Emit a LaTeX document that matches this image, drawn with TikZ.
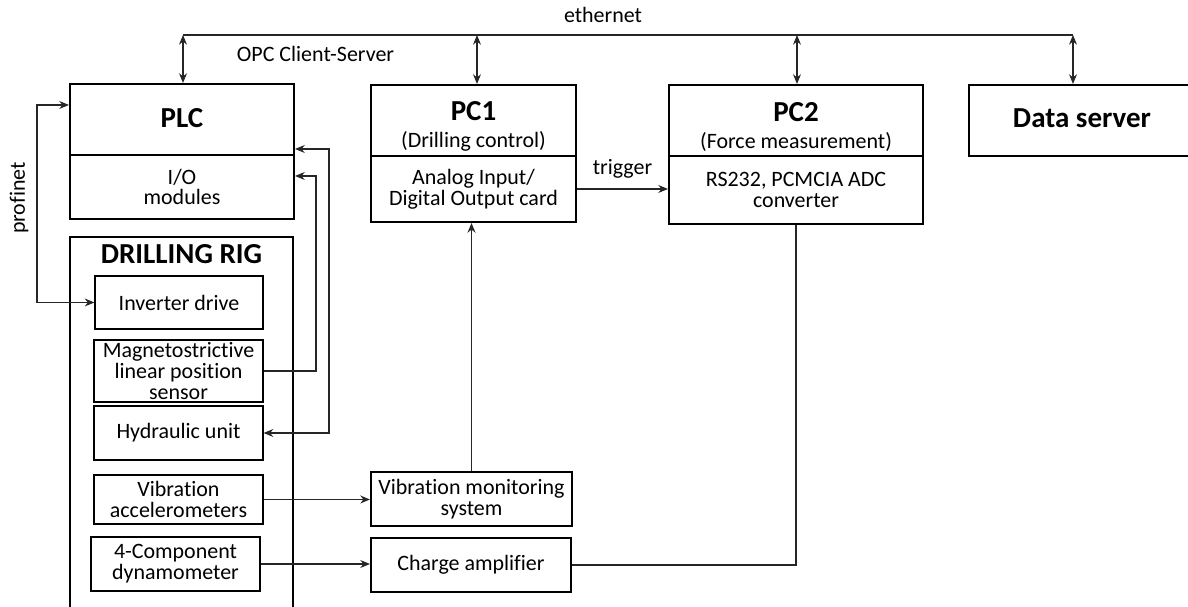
\documentclass[tikz,border=0pt]{standalone}
\usepackage{fontspec}
\setmainfont{Carlito}[Ligatures=NoCommon]
\usetikzlibrary{arrows.meta}

\newcommand{\bodysize}{\fontsize{12.5}{11.8}\selectfont}
\newcommand{\headsize}{\fontsize{16.5}{18}\selectfont\bfseries}

\tikzset{
  blk/.style={draw, line width=1.2pt, inner sep=0pt, align=center, font=\bodysize},
  part/.style={draw, line width=.7pt, inner sep=0pt, align=center, font=\bodysize},
  wire/.style={line width=.6pt, draw=black!85},
  txt/.style={inner sep=0pt, font=\bodysize},
}

\begin{document}
\begin{tikzpicture}[x=0.02cm, y=0.02cm, >={Stealth[length=5.5pt,width=4.5pt]}]
  \useasboundingbox (0,0) rectangle (1188,607);
  \clip (0,0) rectangle (1188,607);

  % top row
  \node[blk, minimum width=4.48cm, minimum height=1.42cm] (PLC) at (182,487.5) {};
  \node[blk, minimum width=4.48cm, minimum height=1.28cm] (IO) at (182,420) {I/O\\modules};
  \node[txt, anchor=base, font=\headsize] (PLCname) at (182,479) {PLC};

  \node[blk, minimum width=4.1cm, minimum height=1.42cm] (PC1) at (473.5,486.5) {};
  \node[blk, minimum width=4.1cm, minimum height=1.32cm] (AIO) at (473.5,418) {Analog Input/\\Digital Output card};
  \node[txt, anchor=base, font=\headsize] (PC1name) at (473.5,486) {PC1};
  \node[txt, anchor=base] (PC1role) at (473.5,459) {(Drilling control)};

  \node[blk, minimum width=5.08cm, minimum height=1.42cm] (PC2) at (796,486.5) {};
  \node[blk, minimum width=5.08cm, minimum height=1.36cm] (ADC) at (796,417) {RS232, PCMCIA ADC\\converter};
  \node[txt, anchor=base, font=\headsize] (PC2name) at (796,485.5) {PC2};
  \node[txt, anchor=base] (PC2role) at (796,458) {(Force measurement)};

  \node[blk, minimum width=4.52cm, minimum height=1.42cm] (DS) at (1082,486.5) {};
  \node[txt, anchor=base, font=\headsize] (DSname) at (1082,479) {Data server};

  % drilling rig
  \node[blk, minimum width=4.46cm, minimum height=7.7cm] (RIG) at (181.5,177.5) {};
  \node[txt, anchor=base, font=\headsize] (RIGname) at (181.5,343) {DRILLING RIG};
  \node[part, minimum width=3.36cm, minimum height=1.06cm] (INV) at (179,304.5) {Inverter drive};
  \node[part, minimum width=3.38cm, minimum height=1.24cm] (MAG) at (178.5,236) {Magnetostrictive\\linear position\\sensor};
  \node[part, minimum width=3.38cm, minimum height=1.08cm] (HYD) at (178.5,174) {Hydraulic unit};
  \node[part, minimum width=3.38cm, minimum height=.98cm] (VA) at (178.5,107.5) {Vibration\\accelerometers};
  \node[part, minimum width=3.38cm, minimum height=1.08cm] (DYN) at (175.5,43) {4-Component\\dynamometer};

  % signal conditioning
  \node[blk, minimum width=4.02cm, minimum height=1.08cm] (VMS) at (471.5,108) {Vibration monitoring\\system};
  \node[blk, minimum width=4cm, minimum height=1.08cm] (CA) at (471,42) {Charge amplifier};

  % ethernet
  \coordinate (busL) at (183,572);
  \coordinate (busR) at (1073,572);
  \coordinate (tap1) at (477,572);
  \coordinate (tap2) at (797,572);
  \draw[wire] (busL) -- (busR);
  \draw[wire, <->] (busL) -- (busL |- PLC.north);
  \draw[wire, <->] (tap1) -- (tap1 |- PC1.north);
  \draw[wire, <->] (tap2) -- (tap2 |- PC2.north);
  \draw[wire, <->] (busR) -- (busR |- DS.north);
  \node[txt, anchor=base] (eth) at (603,584) {ethernet};
  \node[txt, anchor=base] (opc) at (315.5,545) {OPC Client-Server};

  % profinet
  \coordinate (pn) at (37,502);
  \draw[wire, <->] (pn -| PLC.west) -- (pn) |- (INV.west);
  \node[txt, rotate=90] (pnname) at (19,409) {profinet};

  % sensor and hydraulic lines
  \coordinate (ms) at (316,431);
  \draw[wire, ->] (MAG.east) -| (ms) -- (ms -| IO.east);
  \coordinate (hy) at (329,458);
  \draw[wire, <->] (hy -| PLC.east) -- (hy) |- (HYD.east);

  \draw[wire, ->] (AIO.east) -- (AIO.east -| ADC.west) node[txt, midway, above=6pt] (trig) {trigger};
  \draw[wire, ->] (VA.east) -- (VA.east -| VMS.west);
  \draw[wire, ->] (DYN.east) -- (DYN.east -| CA.west);
  \draw[wire, ->] (VMS.north) -- (VMS.north |- AIO.south);
  \draw[wire] (CA.east) -| (ADC.south);
\end{tikzpicture}
\end{document}
